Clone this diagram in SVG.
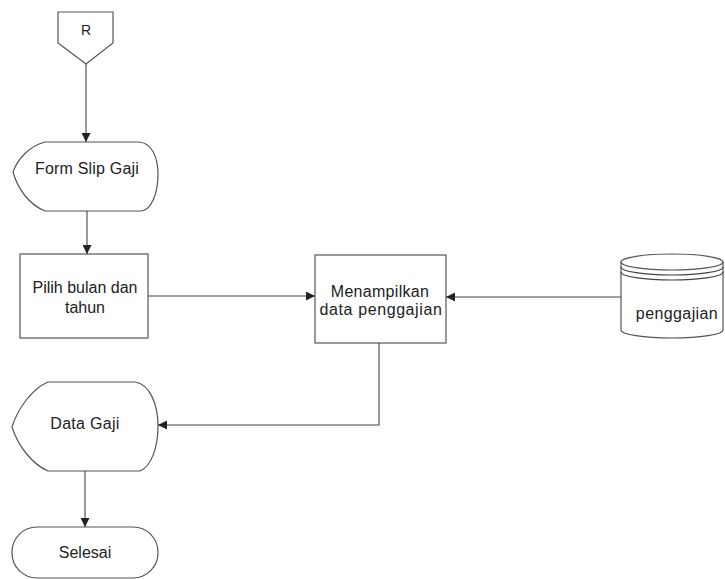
<svg xmlns="http://www.w3.org/2000/svg" width="725" height="579" viewBox="0 0 725 579">
  <defs>
    <marker id="arrow" viewBox="0 0 10 10" refX="10" refY="5" markerWidth="9" markerHeight="9" markerUnits="userSpaceOnUse" orient="auto">
      <path d="M0,0 L10,5 L0,10 Z" fill="#222"/>
    </marker>
  </defs>
  <style>
    .shape { fill: #fff; stroke: #555; stroke-width: 1.2; }
    .line { fill: none; stroke: #444; stroke-width: 1.1; }
    text { font-family: "Liberation Sans", Arial, sans-serif; font-size: 16px; fill: #222; text-anchor: middle; }
  </style>
  <rect width="725" height="579" fill="#fff"/>

  <!-- off-page connector -->
  <g id="connector-r">
    <path class="shape" d="M58,12 L113,12 L113,43 L86,64 L58,43 Z"/>
    <text x="86" y="35" style="font-size:14px">R</text>
  </g>

  <!-- display: form -->
  <g id="form-slip-gaji">
    <path class="shape" d="M45,142 L138,142 C152,142 158,158 158,174 C158,192 152,211 140,211 L45,211 C30,205 18,190 13,172 C18,158 30,146 45,142 Z"/>
    <text x="87" y="174" style="letter-spacing:0.2px">Form Slip Gaji</text>
  </g>

  <!-- process: choose month/year -->
  <g id="pilih-bulan">
    <rect class="shape" x="20" y="254" width="128" height="84"/>
    <text x="85" y="293">Pilih bulan dan</text>
    <text x="85" y="313">tahun</text>
  </g>

  <!-- process: show payroll data -->
  <g id="menampilkan">
    <rect class="shape" x="315" y="255" width="131" height="88"/>
    <text x="380" y="297" style="letter-spacing:0.3px">Menampilkan</text>
    <text x="381" y="315" style="letter-spacing:0.6px">data penggajian</text>
  </g>

  <!-- data store -->
  <g id="penggajian">
    <path class="shape" d="M621,262 L621,330 A51,8 0 0 0 723,330 L723,262"/>
    <ellipse class="shape" cx="672" cy="262" rx="51" ry="8"/>
    <path class="line" d="M621,267 A51,8 0 0 0 723,267"/>
    <path class="line" d="M621,272 A51,8 0 0 0 723,272"/>
    <text x="677" y="319" style="letter-spacing:0.4px">penggajian</text>
  </g>

  <!-- display: payroll result -->
  <g id="data-gaji">
    <path class="shape" d="M48,382 L135,382 C150,384 158,405 158,426 C158,446 152,466 140,471 L48,471 C32,464 18,446 12,427 C18,408 32,389 48,382 Z"/>
    <text x="85" y="429" style="letter-spacing:0.3px">Data Gaji</text>
  </g>

  <!-- terminator -->
  <g id="selesai">
    <rect class="shape" x="12" y="527" width="146" height="51" rx="25" ry="25"/>
    <text x="85" y="558">Selesai</text>
  </g>

  <g id="connectors">
    <path class="line" d="M86,64 L86,142" marker-end="url(#arrow)"/>
    <path class="line" d="M87,211 L87,254" marker-end="url(#arrow)"/>
    <path class="line" d="M148,296 L315,296" marker-end="url(#arrow)"/>
    <path class="line" d="M621,297 L446,297" marker-end="url(#arrow)"/>
    <path class="line" d="M379,343 L379,425 L158,425" marker-end="url(#arrow)"/>
    <path class="line" d="M85,471 L85,527" marker-end="url(#arrow)"/>
  </g>
</svg>
